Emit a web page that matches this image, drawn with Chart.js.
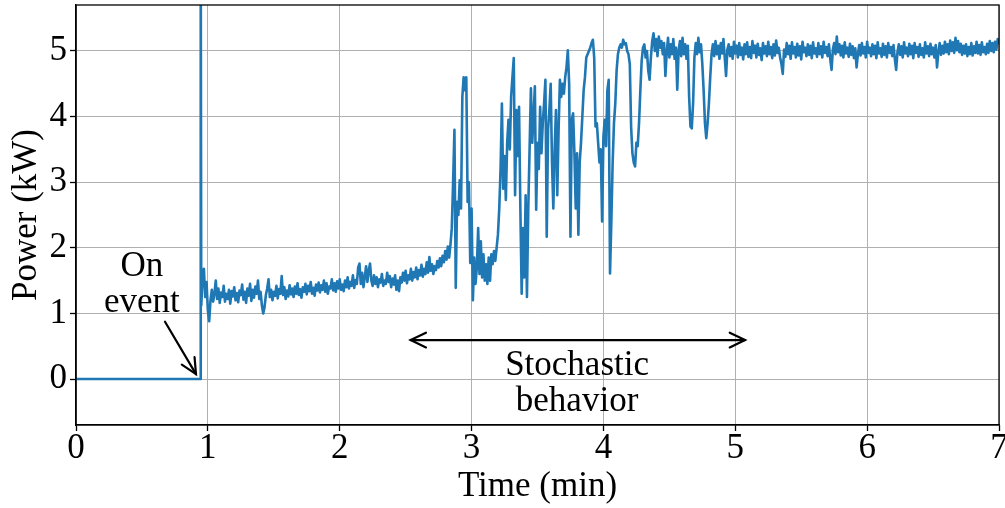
<!DOCTYPE html>
<html>
<head>
<meta charset="utf-8">
<script src="https://cdn.jsdelivr.net/npm/chart.js@4"></script>
<style>
  html, body { margin: 0; padding: 0; background: #fff; }
  canvas { display: block; }
</style>
</head>
<body>
<canvas id="graficaPotencia" width="1005" height="508"></canvas>
<script>
// Antes del encendido: apagado y pico de arranque
const offTimes = [0, 0.945, 0.946];
const offPower = [0, 0, 6.5];

// Lecturas cada 0.01 min desde 0.95 min (kW)
const sampleStart = 0.95;
const sampleStep = 0.01;
const power = [
  1.12, 1.55, 1.68, 1.25, 1.48, 1.05, 0.88, 1.20, 1.36, 1.18,
  1.30, 1.50, 1.22, 1.38, 1.16, 1.32, 1.25, 1.42, 1.18, 1.30,
  1.22, 1.36, 1.15, 1.34, 1.26, 1.40, 1.20, 1.31, 1.17, 1.35,
  1.28, 1.44, 1.21, 1.33, 1.16, 1.38, 1.27, 1.45, 1.19, 1.36,
  1.24, 1.41, 1.30, 1.50, 1.22, 1.33, 1.12, 1.00, 1.10, 1.28,
  1.38, 1.52, 1.25, 1.36, 1.20, 1.33, 1.27, 1.42, 1.23, 1.37,
  1.30, 1.57, 1.28, 1.40, 1.22, 1.35, 1.26, 1.43, 1.29, 1.38,
  1.25, 1.41, 1.30, 1.46, 1.28, 1.37, 1.24, 1.40, 1.33, 1.45,
  1.29, 1.42, 1.34, 1.48, 1.30, 1.39, 1.27, 1.44, 1.35, 1.47,
  1.32, 1.43, 1.36, 1.50, 1.33, 1.46, 1.30, 1.41, 1.38, 1.52,
  1.35, 1.46, 1.33, 1.49, 1.38, 1.52, 1.36, 1.44, 1.34, 1.50,
  1.40, 1.55, 1.38, 1.48, 1.42, 1.58, 1.39, 1.51, 1.45, 1.70,
  1.76, 1.45, 1.62, 1.40, 1.55, 1.72, 1.48, 1.65, 1.76, 1.50,
  1.42, 1.58, 1.45, 1.55, 1.40, 1.52, 1.47, 1.60, 1.42, 1.50,
  1.45, 1.62, 1.48, 1.57, 1.40, 1.53, 1.44, 1.58, 1.36, 1.50,
  1.34, 1.55, 1.47, 1.62, 1.50, 1.65, 1.46, 1.58, 1.52, 1.68,
  1.50, 1.63, 1.55, 1.70, 1.52, 1.66, 1.58, 1.74, 1.56, 1.68,
  1.60, 1.78, 1.62, 1.86, 1.65, 1.75, 1.60, 1.72, 1.66, 1.80,
  1.70, 1.84, 1.72, 1.88, 1.78, 1.95, 1.82, 2.02, 1.85, 2.05,
  2.30, 3.00, 3.80, 1.39, 2.70, 2.50, 3.03, 2.60, 4.30, 4.60,
  4.40, 4.60, 2.70, 3.00, 1.77, 2.60, 1.20, 1.85, 1.45, 1.70,
  2.30, 1.60, 2.10, 1.55, 1.90, 1.50, 1.75, 1.45, 1.85, 1.50,
  1.90, 1.75, 1.95, 1.80, 2.00, 2.20, 2.60, 3.20, 4.20, 2.90,
  3.40, 2.73, 3.60, 3.95, 3.50, 4.30, 4.60, 4.89, 2.80, 4.10,
  3.40, 4.15, 2.60, 1.30, 2.30, 1.55, 2.80, 1.25, 2.60, 3.50,
  4.43, 3.60, 4.00, 4.46, 2.58, 3.60, 3.20, 4.15, 3.44, 3.90,
  4.20, 4.56, 2.17, 3.80, 4.10, 4.50, 3.30, 2.60, 3.50, 4.10,
  2.80, 3.80, 4.56, 4.30, 4.50, 4.35, 4.60, 4.75, 5.01, 4.50,
  2.17, 3.95, 4.05, 3.44, 2.60, 3.44, 2.20, 3.30, 3.60, 4.00,
  4.40, 4.60, 4.90, 4.95, 5.00, 5.05, 5.12, 5.17, 4.90, 3.85,
  3.90, 3.60, 3.30, 3.50, 2.40, 3.70, 3.95, 3.55, 4.40, 4.56,
  1.61, 2.40, 3.30, 3.90, 4.20, 4.70, 4.95, 5.05, 5.10, 5.05,
  5.17, 5.10, 5.12, 5.00, 4.95, 4.80, 3.84, 3.44, 3.30, 3.24,
  3.60, 3.55, 3.90, 4.40, 4.85, 5.05, 5.10, 4.90, 5.00, 4.70,
  4.56, 4.90, 5.15, 5.27, 5.00, 5.18, 4.92, 5.22, 5.05, 5.15,
  4.95, 5.12, 4.62, 4.98, 5.20, 4.90, 5.10, 4.95, 5.18, 4.88,
  5.05, 4.41, 5.00, 5.15, 4.92, 5.20, 4.95, 5.10, 4.88, 5.08,
  4.30, 3.85, 3.82, 4.20, 4.90, 5.12, 4.95, 5.20, 4.98, 5.10,
  4.80, 4.40, 3.90, 3.67, 3.90, 4.20, 4.60, 4.95, 5.10, 4.92,
  5.15, 4.95, 5.08, 4.88, 5.12, 4.96, 5.18, 4.90, 4.62, 5.02,
  5.10, 4.92, 5.06, 4.88, 5.14, 4.96, 5.08, 4.90, 5.12, 4.94,
  5.05, 4.87, 5.10, 4.95, 5.13, 4.91, 5.06, 4.89, 5.15, 4.97,
  5.08, 4.90, 5.11, 4.94, 5.04, 4.86, 5.12, 4.96, 5.07, 4.92,
  5.14, 4.95, 5.06, 4.89, 5.10, 4.93, 5.16, 4.97, 5.05, 4.90,
  4.80, 4.65, 5.02, 4.91, 5.12, 4.95, 5.08, 4.88, 5.13, 4.96,
  5.06, 4.90, 5.11, 4.93, 5.07, 4.87, 5.14, 4.98, 5.05, 4.92,
  5.10, 4.94, 5.08, 4.89, 5.13, 4.96, 5.04, 4.91, 5.12, 4.95,
  5.07, 4.90, 5.14, 4.97, 5.06, 4.92, 5.10, 4.88, 4.71, 5.02,
  5.12, 4.95, 5.22, 4.98, 5.10, 4.93, 5.08, 4.90, 5.13, 4.96,
  5.05, 4.91, 5.11, 4.94, 5.07, 4.89, 5.04, 4.75, 4.95, 5.09,
  4.93, 5.12, 4.96, 5.06, 4.90, 5.14, 4.97, 5.05, 4.92, 5.10,
  4.95, 5.08, 4.89, 5.13, 4.96, 5.04, 4.91, 5.11, 4.94, 5.07,
  4.90, 5.12, 4.97, 5.06, 4.92, 5.09, 4.88, 4.71, 4.98, 5.10,
  4.94, 5.07, 4.90, 5.13, 4.96, 5.05, 4.92, 5.11, 4.95, 5.08,
  4.89, 5.12, 4.97, 5.06, 4.91, 5.10, 4.94, 5.04, 4.90, 5.13,
  4.96, 5.07, 4.92, 5.11, 4.95, 5.05, 4.90, 5.09, 4.75, 4.98,
  5.12, 4.94, 5.08, 4.96, 5.14, 4.98, 5.10, 4.95, 5.16, 5.00,
  5.13, 4.97, 5.20, 5.01, 5.15, 4.98, 5.11, 4.94, 5.08, 4.96,
  5.10, 4.92, 5.06, 4.95, 5.12, 4.93, 5.07, 4.97, 5.14, 4.96,
  5.09, 4.94, 5.13, 4.98, 5.06, 4.95, 5.11, 4.97, 5.15, 5.00,
  5.12, 4.98, 5.14, 5.02, 5.18, 5.10
];

const xTicks = [0, 1, 2, 3, 4, 5, 6, 7];
const yTicks = [0, 1, 2, 3, 4, 5];

const serif = "'Liberation Serif', 'DejaVu Serif', serif";
const azul = '#1f77b4';

// Puntos (x, y) para la serie
const puntos = offTimes.map((t, i) => ({ x: t, y: offPower[i] }))
  .concat(power.map((p, i) => ({ x: sampleStart + i * sampleStep, y: p })));

// Flecha con punta abierta en el extremo final (y opcionalmente en el inicial)
function flecha(ctx, x0, y0, x1, y1, doble) {
  const largo = 17, ang = 0.45;
  ctx.beginPath();
  ctx.moveTo(x0, y0);
  ctx.lineTo(x1, y1);
  ctx.stroke();
  const punta = (tx, ty, fx, fy) => {
    const a = Math.atan2(ty - fy, tx - fx);
    ctx.beginPath();
    ctx.moveTo(tx - largo * Math.cos(a - ang), ty - largo * Math.sin(a - ang));
    ctx.lineTo(tx, ty);
    ctx.lineTo(tx - largo * Math.cos(a + ang), ty - largo * Math.sin(a + ang));
    ctx.stroke();
  };
  punta(x1, y1, x0, y0);
  if (doble) punta(x0, y0, x1, y1);
}

// Marco del área y anotaciones de texto
const notas = {
  id: 'notas',
  afterDatasetsDraw(chart) {
    const { ctx, chartArea: a, scales: { x, y } } = chart;
    ctx.save();
    ctx.strokeStyle = '#000';
    ctx.lineWidth = 1.3;
    ctx.strokeRect(a.left, a.top, a.right - a.left, a.bottom - a.top);

    ctx.fillStyle = '#000';
    ctx.font = '35px ' + serif;
    ctx.textAlign = 'center';
    ctx.textBaseline = 'alphabetic';
    ctx.fillText('On', x.getPixelForValue(0.5), y.getPixelForValue(1.57));
    ctx.fillText('event', x.getPixelForValue(0.5), y.getPixelForValue(1.02));
    ctx.fillText('Stochastic', x.getPixelForValue(3.8), y.getPixelForValue(0.06));
    ctx.fillText('behavior', x.getPixelForValue(3.8), y.getPixelForValue(-0.49));

    ctx.lineWidth = 2.2;
    ctx.lineCap = 'round';
    ctx.lineJoin = 'miter';
    flecha(ctx, x.getPixelForValue(0.675), y.getPixelForValue(0.873),
                x.getPixelForValue(0.91), y.getPixelForValue(0.076), false);
    flecha(ctx, x.getPixelForValue(2.538), y.getPixelForValue(0.594),
                x.getPixelForValue(5.074), y.getPixelForValue(0.594), true);
    ctx.restore();
  }
};

const ctx = document.getElementById('graficaPotencia').getContext('2d');
new Chart(ctx, {
  type: 'line',
  data: {
    datasets: [{
      data: puntos,
      borderColor: azul,
      borderWidth: 2.6,
      borderJoinStyle: 'round',
      pointRadius: 0,
      tension: 0,
      fill: false
    }]
  },
  options: {
    responsive: false,
    animation: false,
    events: [],
    layout: { padding: { left: 0, top: 5, right: 6, bottom: 0 } },
    plugins: { legend: { display: false }, tooltip: { enabled: false } },
    scales: {
      x: {
        type: 'linear',
        min: 0,
        max: 7,
        afterBuildTicks: s => { s.ticks = xTicks.map(v => ({ value: v })); },
        afterFit: s => { s.height = 83; s.paddingLeft = 0; s.paddingRight = 0; },
        grid: { color: '#b0b0b0', lineWidth: 1, tickColor: '#000', tickLength: 6, tickWidth: 1.3 },
        border: { color: '#000', width: 1.3 },
        ticks: { color: '#000', padding: 0, maxRotation: 0, font: { family: serif, size: 35, lineHeight: 1.0 } },
        title: {
          display: true,
          text: 'Time (min)',
          color: '#000',
          padding: { top: 0, bottom: 0 },
          font: { family: serif, size: 35, lineHeight: 1.2 }
        }
      },
      y: {
        type: 'linear',
        min: -0.7,
        max: 5.7,
        afterBuildTicks: s => { s.ticks = yTicks.map(v => ({ value: v })); },
        afterFit: s => { s.width = 76; s.paddingTop = 0; s.paddingBottom = 0; },
        grid: { color: '#b0b0b0', lineWidth: 1, tickColor: '#000', tickLength: 6, tickWidth: 1.3 },
        border: { color: '#000', width: 1.3 },
        ticks: { color: '#000', padding: 3, font: { family: serif, size: 35, lineHeight: 1.0 } },
        title: {
          display: true,
          text: 'Power (kW)',
          color: '#000',
          padding: { top: 6, bottom: 0 },
          font: { family: serif, size: 35, lineHeight: 1.2 }
        }
      }
    }
  },
  plugins: [notas]
});
</script>
</body>
</html>
